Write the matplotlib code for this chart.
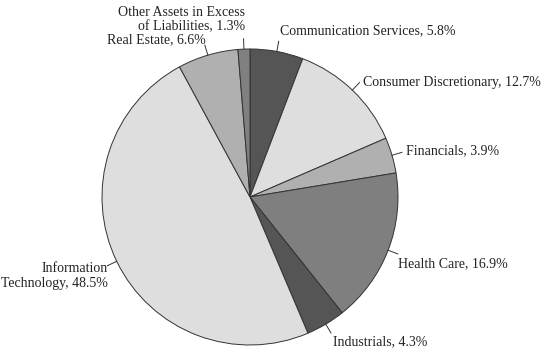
import numpy as np
import matplotlib
matplotlib.use("Agg")
import matplotlib.pyplot as plt

labels = ["Communication Services", "Consumer Discretionary", "Financials",
          "Health Care", "Industrials", "Information\nTechnology",
          "Real Estate", "Other Assets in Excess\nof Liabilities"]
values = [5.8, 12.7, 3.9, 16.9, 4.3, 48.5, 6.6, 1.3]
colors = ["#555555", "#dedede", "#b0b0b0", "#7f7f7f", "#555555", "#dedede", "#b0b0b0", "#808080"]

# per-label text style: (ha, va, dx pts, dy pts)
styles = [("left", "bottom", 0, 0), ("left", "center", 0, -2), ("left", "center", 0, 0),
          ("left", "center", -3, -6), ("left", "top", 0, 1.5), ("right", "center", 3, -6),
          ("right", "bottom", 1.5, -3.5), ("right", "bottom", 1, 0.5)]

plt.rcParams['font.family'] = ['Liberation Serif', 'DejaVu Serif']
fig = plt.figure(figsize=(5.41, 3.51), dpi=100)
ax = fig.add_axes([102/541, 6/351, 296/541, 296/351])
wedges, _ = ax.pie(values, colors=colors, startangle=90, counterclock=False,
                   wedgeprops=dict(edgecolor="#333333", linewidth=0.7))
ax.set_xlim(-1, 1)
ax.set_ylim(-1, 1)
ax.set_aspect('equal')

for w, lab, v, (ha, va, dx, dy) in zip(wedges, labels, values, styles):
    ang = np.deg2rad((w.theta1 + w.theta2) / 2)
    c, s = np.cos(ang), np.sin(ang)
    ax.plot([c, 1.07 * c], [s, 1.07 * s], color="#333333", lw=0.7, clip_on=False)
    ax.annotate(f"{lab}, {v}%", xy=(1.1 * c, 1.1 * s), xytext=(dx, dy),
                textcoords="offset points", ha=ha, va=va, fontsize=10,
                multialignment=ha, color="#222222", annotation_clip=False)

fig.savefig("out.png", dpi=100)
